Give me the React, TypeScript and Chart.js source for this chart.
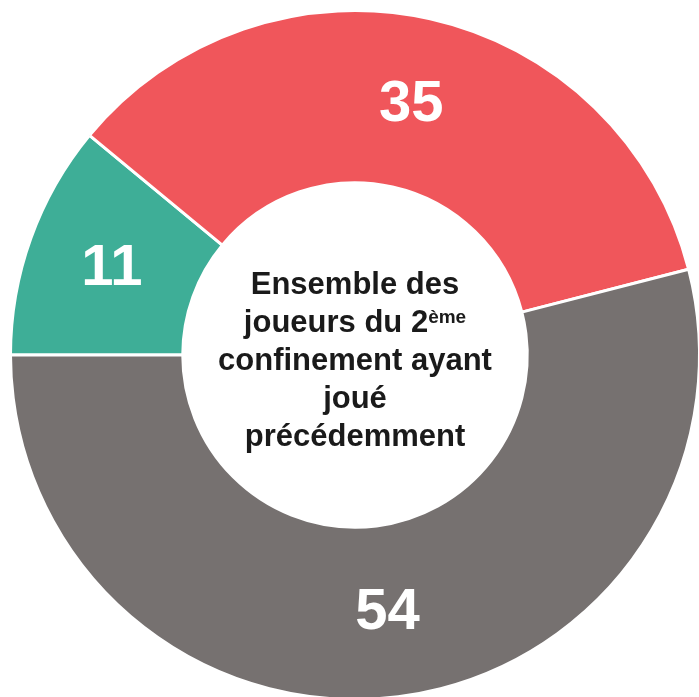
import React, { useEffect, useRef } from "react";
import { Chart, registerables } from "chart.js";

Chart.register(...registerables);

const categories = ["Groupe A", "Groupe B", "Groupe C"];
const values = [11, 35, 54];
const colors = ["#3EAE97", "#F0565B", "#767170"];
const centerLines = ["Ensemble des", "joueurs du 2", "confinement ayant", "joué", "précédemment"];
const centerSup = "ème";

const FONT = "'Liberation Sans', Arimo, sans-serif";

const labelPlugin = {
  id: "labelPlugin",
  afterDraw(chart: any) {
    const ctx = chart.ctx;
    const meta = chart.getDatasetMeta(0);
    ctx.save();
    ctx.fillStyle = "#ffffff";
    ctx.font = `bold 58px ${FONT}`;
    ctx.textAlign = "center";
    ctx.textBaseline = "middle";
    meta.data.forEach((arc: any, i: number) => {
      const p = arc.getCenterPoint();
      ctx.fillText(String(values[i]), p.x, p.y + 2);
    });
    // center text
    const first = meta.data[0];
    const cx = first.x;
    const cy = first.y;
    ctx.fillStyle = "#1a1a1a";
    ctx.textBaseline = "alphabetic";
    const lh = 38;
    centerLines.forEach((line, i) => {
      const y = cy + (i - 2) * lh + 15;
      if (i === 1) {
        ctx.font = `bold 31px ${FONT}`;
        const w1 = ctx.measureText(line).width;
        ctx.font = `bold 19px ${FONT}`;
        const w2 = ctx.measureText(centerSup).width;
        const start = cx - (w1 + w2) / 2;
        ctx.textAlign = "left";
        ctx.font = `bold 31px ${FONT}`;
        ctx.fillText(line, start, y);
        ctx.font = `bold 19px ${FONT}`;
        ctx.fillText(centerSup, start + w1, y - 9);
      } else {
        ctx.textAlign = "center";
        ctx.font = `bold 31px ${FONT}`;
        ctx.fillText(line, cx, y);
      }
    });
    ctx.restore();
  },
};

export default function App() {
  const ref = useRef<HTMLCanvasElement | null>(null);
  useEffect(() => {
    if (!ref.current) return;
    const chart = new Chart(ref.current, {
      type: "doughnut",
      data: {
        labels: categories,
        datasets: [
          {
            data: values,
            backgroundColor: colors,
            borderColor: "#ffffff",
            borderWidth: 3,
            hoverOffset: 0,
          },
        ],
      },
      options: {
        animation: false,
        responsive: true,
        maintainAspectRatio: false,
        rotation: 270,
        cutout: "50%",
        layout: { padding: 9 },
        plugins: {
          legend: { display: false },
          tooltip: { enabled: false },
        },
        events: [],
      },
      plugins: [labelPlugin],
    });
    return () => chart.destroy();
  }, []);
  return (
    <div style={{ position: "fixed", left: 0, top: 0, width: 710, height: 710, background: "#fff" }}>
      <canvas ref={ref} />
    </div>
  );
}
